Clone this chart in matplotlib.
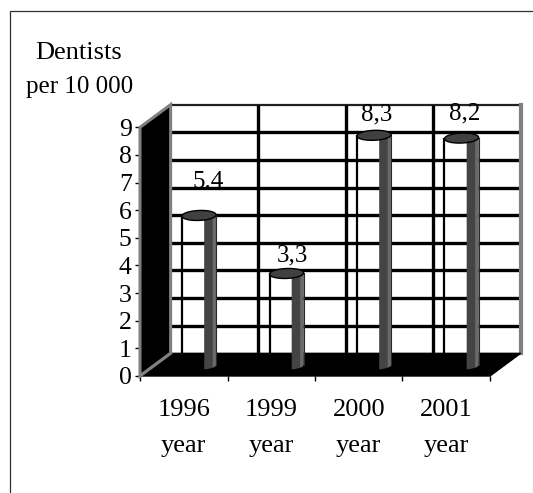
import numpy as np
import matplotlib
matplotlib.use("Agg")
import matplotlib.pyplot as plt
from matplotlib.patches import Polygon, Rectangle

# ---- data ----
categories = ["1996\nyear", "1999\nyear", "2000\nyear", "2001\nyear"]
values = [5.4, 3.3, 8.3, 8.2]
value_labels = ["5.4", "3,3", "8,3", "8,2"]
yticks = list(range(0, 10))
title_lines = ["Dentists", "per 10 000"]

# ---- style / layout ----
W, H = 533, 493
DX, DY = 0.35, 0.82          # depth offset (x in categories, y in value units)
BAR_W = 0.39
ELL_H = 0.36
label_dx = [0.10, 0.07, 0.03, 0.04]
label_dy = [1.22, 0.67, 0.74, 0.90]
GRAY = "#808080"
serif = ["Liberation Serif", "DejaVu Serif"]

fig = plt.figure(figsize=(W / 100, H / 100), dpi=100)
fig.patch.set_facecolor("white")

# outer frame (clipped at right/bottom)
fig.add_artist(Rectangle((10 / W, -0.1), 1.2, 1 - 11 / H + 0.1, transform=fig.transFigure,
                         fill=False, edgecolor="#303030", linewidth=0.9))

ax = fig.add_axes([140 / W, 1 - 376 / H, 350 / W, (376 - 127.3) / H])
ax.set_xlim(0, 4)
ax.set_ylim(0, 9)
ax.set_facecolor("none")
for s in ax.spines.values():
    s.set_visible(False)

n = len(values)
ymax = yticks[-1]

# back wall
ax.add_patch(Polygon([(DX, DY), (n + DX, DY), (n + DX, ymax + DY), (DX, ymax + DY)],
                     closed=True, facecolor="white", edgecolor="none", clip_on=False, zorder=1))
for v in yticks[1:-1]:
    ax.plot([DX, n + DX], [v + DY, v + DY], color="black", lw=2.4, clip_on=False, zorder=2,
            solid_capstyle="butt")
ax.plot([DX, n + DX], [ymax + DY, ymax + DY], color="#202020", lw=1.6, clip_on=False, zorder=2)
for i in range(1, n):
    ax.plot([i + DX, i + DX], [DY, ymax + DY], color="black", lw=2.4, clip_on=False, zorder=2,
            solid_capstyle="butt")
ax.plot([n + DX, n + DX], [DY, ymax + DY], color=GRAY, lw=3.0, clip_on=False, zorder=2)

# left wall
ax.add_patch(Polygon([(0, 0), (0, ymax), (DX, ymax + DY), (DX, DY)], closed=True,
                     facecolor="black", edgecolor=GRAY, linewidth=2.2, clip_on=False, zorder=3,
                     joinstyle="miter"))
# floor
ax.add_patch(Polygon([(0, 0), (n, 0), (n + DX, DY), (DX, DY)], closed=True,
                     facecolor="black", edgecolor="black", linewidth=1.0, clip_on=False, zorder=3))
ax.plot([0, DX], [0, DY], color=GRAY, lw=2.2, clip_on=False, zorder=3.5)

# cylinders
base = DY / 2
t = np.linspace(0, 2 * np.pi, 80)
for i, v in enumerate(values):
    cx = i + 0.5 + DX / 2
    top = v + base
    hw = BAR_W / 2
    # dark band on right side, bottom following ellipse curve
    xs = np.linspace(cx + 0.15 * BAR_W, cx + hw, 20)
    ybot = base - (ELL_H / 2) * np.sqrt(np.clip(1 - ((xs - cx) / hw) ** 2, 0, 1))
    band = list(zip(xs, ybot)) + [(xs[-1], top), (xs[0], top)]
    ax.add_patch(Polygon(band, closed=True, facecolor="#444444", edgecolor="none",
                         zorder=4, clip_on=False))
    xs2 = np.linspace(cx + 0.40 * BAR_W, cx + hw, 10)
    ybot2 = base - (ELL_H / 2) * np.sqrt(np.clip(1 - ((xs2 - cx) / hw) ** 2, 0, 1))
    strip = list(zip(xs2, ybot2)) + [(xs2[-1], top), (xs2[0], top)]
    ax.add_patch(Polygon(strip, closed=True, facecolor="#6a6a6a", edgecolor="none",
                         zorder=4.1, clip_on=False))
    # left edge line
    ax.plot([cx - hw, cx - hw], [base, top], color="black", lw=1.6, zorder=4.2,
            solid_capstyle="butt", clip_on=False)
    ax.plot([cx + hw, cx + hw], [base - 0.02, top], color="#2a2a2a", lw=0.8, zorder=4.2,
            clip_on=False)
    # top ellipse (slightly tilted)
    ex = cx + hw * np.cos(t)
    ey = top + (ELL_H / 2) * np.sin(t) + 0.12 * (ex - cx)
    ax.add_patch(Polygon(list(zip(ex, ey)), closed=True, facecolor="#404040",
                         edgecolor="black", linewidth=1.0, zorder=5, clip_on=False))
    # value label
    ax.text(cx + label_dx[i], top + label_dy[i], value_labels[i], ha="center", va="center",
            fontsize=18, family=serif, zorder=6)

# ticks
ax.set_yticks(yticks)
ax.set_yticklabels([str(y) for y in yticks], fontsize=18.5, family=serif)
ax.tick_params(axis="y", direction="out", length=3.5, width=1.0, pad=2.5, colors="black")
ax.set_xticks(range(n + 1))
ax.set_xticklabels([])
ax.set_xticks([i + 0.5 for i in range(n)], minor=True)
ax.set_xticklabels(categories, minor=True, fontsize=19, family=serif, linespacing=1.85)
ax.tick_params(axis="x", which="major", direction="out", length=3.5, width=1.0)
ax.tick_params(axis="x", which="minor", length=0, pad=16.5)

# title
fig.text(78.5 / W, 1 - 59.3 / H, title_lines[0], ha="center", va="baseline",
         fontsize=19, family=serif)
fig.text(80 / W, 1 - 92.7 / H, title_lines[1], ha="center", va="baseline",
         fontsize=18, family=serif)

fig.savefig("out.png", dpi=100)
